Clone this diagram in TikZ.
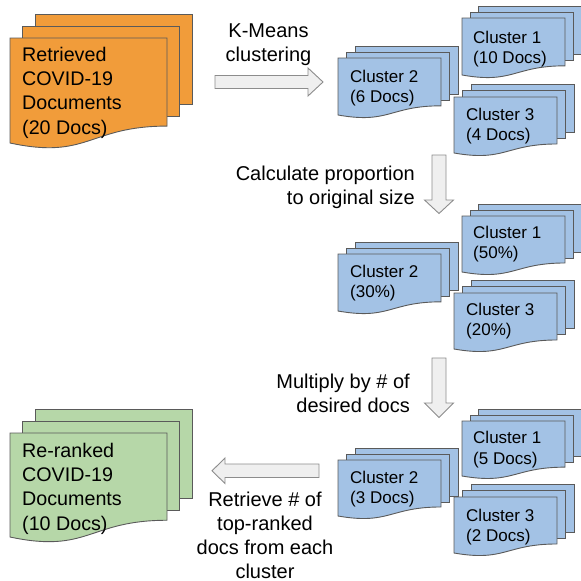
\documentclass[tikz,border=0pt]{standalone}
\usepackage{fontspec}
\setmainfont{Liberation Sans}
\definecolor{orangefill}{HTML}{F19C3A}
\definecolor{bluefill}{HTML}{A3C2E5}
\definecolor{greenfill}{HTML}{B6D7A8}
\definecolor{pageline}{HTML}{5A5A5A}
\definecolor{arrowfill}{HTML}{EFEFEF}
\definecolor{arrowline}{HTML}{8C8C8C}
\tikzset{
  pagestyle/.style={draw=pageline, line width=0.9pt, line join=miter},
  bigtxt/.style={anchor=north west, align=left, inner sep=0pt, font=\fontsize{19.7}{24.3}\selectfont},
  clustxt/.style={anchor=north west, align=left, inner sep=0pt, font=\fontsize{17}{20.5}\selectfont},
  lbl/.style={inner sep=0pt, font=\fontsize{20}{24.2}\selectfont},
  blockarrow/.style={fill=arrowfill, draw=arrowline, line width=0.9pt, line join=miter}
}
% x y w h dx dy colour
\newcommand\docstack[7]{%
  \filldraw[pagestyle, fill=#7] ({#1+2*#5},{#2-2*#6}) rectangle ++(#3,{0.857*#4});
  \filldraw[pagestyle, fill=#7] ({#1+#5},{#2-#6}) rectangle ++(#3,{0.857*#4});
  \filldraw[pagestyle, fill=#7] (#1,#2) -- ({#1+#3},#2) -- ({#1+#3},{#2+0.839*#4})
    .. controls ({#1+0.5*#3},{#2+0.839*#4}) and ({#1+0.5*#3},{#2+1.161*#4}) .. (#1,{#2+#4}) -- cycle;
}
\begin{document}
\begin{tikzpicture}[x=1pt,y=-1pt]
\useasboundingbox (0,0) rectangle (581,581);
% input documents
\docstack{10}{38}{157}{105}{12.5}{12}{orangefill}
\node[bigtxt] (input) at (22,46.9) {Retrieved\\COVID-19\\Documents\\(20 Docs)};
% output documents
\docstack{10}{433}{157}{104}{12.5}{12}{greenfill}
\node[bigtxt] (output) at (22,442.9) {Re-ranked\\COVID-19\\Documents\\(10 Docs)};
% set 1
\docstack{462}{18}{103}{57}{8}{6}{bluefill}
\node[clustxt] (a1) at (473,30.5) {Cluster 1\\(10 Docs)};
\docstack{338}{58}{103}{57}{8.5}{6}{bluefill}
\node[clustxt] (a2) at (350,69.5) {Cluster 2\\(6 Docs)};
\docstack{454}{97}{103}{56}{8.5}{6.5}{bluefill}
\node[clustxt] (a3) at (466,107.8) {Cluster 3\\(4 Docs)};
% set 2
\docstack{462}{216}{103}{56}{8}{6}{bluefill}
\node[clustxt] (b1) at (473,225.8) {Cluster 1\\(50\%)};
\docstack{338}{254}{103}{57}{8.5}{6}{bluefill}
\node[clustxt] (b2) at (350,264.8) {Cluster 2\\(30\%)};
\docstack{454}{293}{103}{56}{8.5}{6.5}{bluefill}
\node[clustxt] (b3) at (466,302.8) {Cluster 3\\(20\%)};
% set 3
\docstack{462}{421}{103}{55}{8}{6}{bluefill}
\node[clustxt] (c1) at (473,431) {Cluster 1\\(5 Docs)};
\docstack{338}{460}{103}{56}{8.5}{6}{bluefill}
\node[clustxt] (c2) at (350,470.5) {Cluster 2\\(3 Docs)};
\docstack{454}{497}{103}{56}{8.5}{6.5}{bluefill}
\node[clustxt] (c3) at (466,508.5) {Cluster 3\\(2 Docs)};
% block arrows
\draw[blockarrow] (215,75.5) -- (308,75.5) -- (308,68) -- (323,82) -- (308,96) -- (308,88.5) -- (215,88.5) -- cycle;
\draw[blockarrow] (432,155) -- (446,155) -- (446,200) -- (453.5,200) -- (439,213.5) -- (424.5,200) -- (432,200) -- cycle;
\draw[blockarrow] (432,358) -- (446,358) -- (446,403) -- (453.5,403) -- (439,417.5) -- (424.5,403) -- (432,403) -- cycle;
\draw[blockarrow] (319,464) -- (225,464) -- (225,458) -- (212,470.8) -- (225,483.5) -- (225,477.5) -- (319,477.5) -- cycle;
% labels
\node[lbl, anchor=north, align=center] (l1) at (268.5,23.7) {K-Means\\clustering};
\node[lbl, anchor=north east, align=right] (l2) at (415,165.7) {Calculate proportion\\to original size};
\node[lbl, anchor=north east, align=right] (l3) at (410,373.7) {Multiply by \# of\\desired docs};
\node[lbl, anchor=north, align=center] (l4) at (265,491.5) {Retrieve \# of\\top-ranked\\docs from each\\cluster};
\end{tikzpicture}
\end{document}
